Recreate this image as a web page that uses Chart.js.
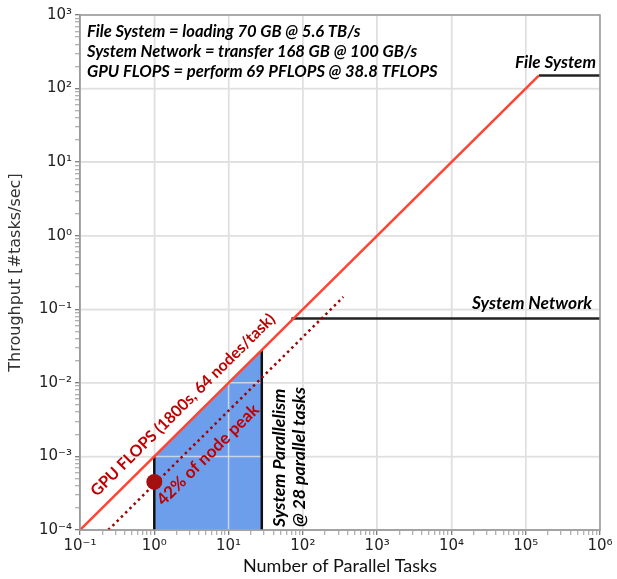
<!DOCTYPE html>
<html><head><meta charset="utf-8">
<script src="https://cdn.jsdelivr.net/npm/chart.js@4/dist/chart.umd.min.js"></script>
<style>html,body{margin:0;padding:0;background:#fff}#wrap{width:617px;height:579px;position:relative}</style>
</head><body><div id="wrap"><canvas id="c"></canvas></div>
<script>
// ---- data ----
const xTickValues = [0.1, 1, 10, 100, 1e3, 1e4, 1e5, 1e6];
const xTickLabels = ['10⁻¹','10⁰','10¹','10²','10³','10⁴','10⁵','10⁶'];
const yTickValues = [1e-4, 1e-3, 1e-2, 1e-1, 1, 10, 100, 1000];
const yTickLabels = ['10⁻⁴','10⁻³','10⁻²','10⁻¹','10⁰','10¹','10²','10³'];

const gpuTasks = [0.1, 1.5e5];
const gpuThroughput = [1e-4, 150];
const fileSystemTasks = [1.5e5, 1e6];
const fileSystemThroughput = [150, 150];
const networkTasks = [70, 1e6];
const networkThroughput = [0.075, 0.075];
const achievedTasks = [0.24, 350];
const achievedThroughput = [1.0e-4, 0.147];
const measuredTasks = [1];
const measuredThroughput = [4.5e-4];
const regionTasks = [1, 28];
const regionThroughput = [1e-3, 0.028];
const singleBarTasks = [1, 1];
const singleBarThroughput = [1e-4, 1e-3];
const systemBarTasks = [28, 28];
const systemBarThroughput = [1e-4, 0.028];

const infoLines = [
  'File System = loading 70 GB @ 5.6 TB/s',
  'System Network = transfer 168 GB @ 100 GB/s',
  'GPU FLOPS = perform 69 PFLOPS @ 38.8 TFLOPS'
];

// ---- helpers ----
const pts = (xs, ys) => xs.map((x, i) => ({x, y: ys[i]}));
const isMajor = v => Math.abs(Math.log10(v) - Math.round(Math.log10(v))) < 1e-9;
function buildTicks(lo, hi) {
  const t = [];
  for (let n = lo; n < hi; n++) for (let k = 1; k <= 9; k++) t.push({value: k * Math.pow(10, n)});
  t.push({value: Math.pow(10, hi)});
  return t;
}
function labelFor(v, vals, labels) {
  if (!isMajor(v)) return '';
  const i = vals.findIndex(u => Math.abs(Math.log10(u) - Math.log10(v)) < 1e-9);
  return i >= 0 ? labels[i] : '';
}
function fitSize(ctx, text, style, weight, family, width) {
  ctx.font = `${style} ${weight} 20px ${family}`;
  return 20 * width / ctx.measureText(text).width;
}

const gridColor = '#dddddd';
const BLUE_IDX = 0;

const gridOverFill = {
  id: 'gridOverFill',
  afterDatasetDraw(chart, args) {
    if (args.index !== BLUE_IDX) return;
    const {ctx, chartArea: a, scales: {x, y}} = chart;
    ctx.save();
    ctx.beginPath(); ctx.rect(a.left, a.top, a.right - a.left, a.bottom - a.top); ctx.clip();
    ctx.strokeStyle = 'rgba(225,225,225,0.8)';
    ctx.lineWidth = 1.5;
    xTickValues.forEach(v => { const p = x.getPixelForValue(v); ctx.beginPath(); ctx.moveTo(p, a.top); ctx.lineTo(p, a.bottom); ctx.stroke(); });
    yTickValues.forEach(v => { const p = y.getPixelForValue(v); ctx.beginPath(); ctx.moveTo(a.left, p); ctx.lineTo(a.right, p); ctx.stroke(); });
    ctx.restore();
  }
};

const annotations = {
  id: 'annotations',
  afterDatasetsDraw(chart) {
    const {ctx, chartArea: a, scales: {x, y}} = chart;
    ctx.save();
    // frame
    ctx.strokeStyle = '#999'; ctx.lineWidth = 1.5;
    ctx.strokeRect(a.left, a.top, a.right - a.left, a.bottom - a.top);

    const fam = 'Lato';
    // info block
    const s = fitSize(ctx, infoLines[2], 'italic', 'bold', fam, 351);
    ctx.font = `italic bold ${s}px ${fam}`;
    ctx.fillStyle = '#000'; ctx.textAlign = 'left'; ctx.textBaseline = 'middle';
    infoLines.forEach((t, i) => ctx.fillText(t, a.left + 7, a.top + 17 + i * 20));

    // cap labels
    ctx.textAlign = 'right';
    let fs = fitSize(ctx, 'File System', 'italic', 'bold', fam, 81);
    ctx.font = `italic bold ${fs}px ${fam}`;
    ctx.fillText('File System', a.right - 4, y.getPixelForValue(fileSystemThroughput[0]) - 13);
    fs = fitSize(ctx, 'System Network', 'italic', 'bold', fam, 120);
    ctx.font = `italic bold ${fs}px ${fam}`;
    ctx.fillText('System Network', a.right - 8, y.getPixelForValue(networkThroughput[0]) - 15);

    // diagonal labels
    const x0 = x.getPixelForValue(gpuTasks[0]), y0 = y.getPixelForValue(gpuThroughput[0]);
    const x1 = x.getPixelForValue(gpuTasks[1]), y1 = y.getPixelForValue(gpuThroughput[1]);
    const ang = Math.atan2(y1 - y0, x1 - x0);
    ctx.fillStyle = '#C00000'; ctx.textAlign = 'center'; ctx.textBaseline = 'middle';
    const g = 'GPU FLOPS (1800s, 64 nodes/task)';
    fs = fitSize(ctx, g, 'normal', 'bold', fam, 252);
    ctx.save();
    ctx.translate(x.getPixelForValue(2.43), y.getPixelForValue(5.0e-3));
    ctx.rotate(ang); ctx.font = `normal bold ${fs}px ${fam}`; ctx.fillText(g, 0, 0);
    ctx.restore();
    const p = '42% of node peak';
    fs = fitSize(ctx, p, 'normal', 'bold', fam, 136);
    ctx.save();
    ctx.translate(x.getPixelForValue(5.28), y.getPixelForValue(1.05e-3));
    ctx.rotate(ang); ctx.font = `normal bold ${fs}px ${fam}`; ctx.fillText(p, 0, 0);
    ctx.restore();

    // vertical label
    ctx.fillStyle = '#000'; ctx.textAlign = 'left';
    const v1 = 'System Parallelism', v2 = '@ 28 parallel tasks';
    fs = fitSize(ctx, v2, 'italic', 'bold', fam, 140);
    const xb = x.getPixelForValue(systemBarTasks[0]);
    ctx.font = `italic bold ${fs}px ${fam}`;
    ctx.save(); ctx.translate(xb + 18, a.bottom - 3); ctx.rotate(-Math.PI / 2); ctx.fillText(v1, 0, 0); ctx.restore();
    ctx.save(); ctx.translate(xb + 38, a.bottom - 3); ctx.rotate(-Math.PI / 2); ctx.fillText(v2, 0, 0); ctx.restore();
    ctx.restore();
  }
};

const lineDs = (data, color, width, extra) => Object.assign({
  data, borderColor: color, borderWidth: width, showLine: true, pointRadius: 0, fill: false, tension: 0
}, extra || {});

new Chart(document.getElementById('c'), {
  type: 'scatter',
  data: {
    datasets: [
      lineDs(pts(regionTasks, regionThroughput), 'rgba(0,0,0,0)', 0, {fill: 'start', backgroundColor: '#6D9EEB', order: 10}),
      lineDs(pts(singleBarTasks, singleBarThroughput), '#111', 2.5, {order: 3}),
      lineDs(pts(systemBarTasks, systemBarThroughput), '#111', 2.5, {order: 3}),
      lineDs(pts(fileSystemTasks, fileSystemThroughput), '#222', 2.5, {order: 3}),
      lineDs(pts(networkTasks, networkThroughput), '#222', 2.5, {order: 3}),
      lineDs(pts(achievedTasks, achievedThroughput), '#A00000', 2.5, {borderDash: [2.5, 3.5], order: 2}),
      lineDs(pts(gpuTasks, gpuThroughput), '#FF4433', 2.5, {order: 2}),
      {data: pts(measuredTasks, measuredThroughput), showLine: false, pointRadius: 8, pointBackgroundColor: '#A31010', pointBorderWidth: 0, order: 1}
    ]
  },
  options: {
    responsive: true, maintainAspectRatio: false, animation: false,
    layout: {padding: {left: 0, top: 15, right: 17, bottom: 0}},
    plugins: {legend: {display: false}, tooltip: {enabled: false}},
    scales: {
      x: {
        type: 'logarithmic', position: 'bottom', min: 0.1, max: 1e6,
        afterBuildTicks: s => { s.ticks = buildTicks(-1, 6); },
        afterFit: s => { s.height = 49; },
        ticks: {autoSkip: false, maxRotation: 0, minRotation: 0, padding: 2, color: '#222',
          font: {family: 'DejaVu Sans', size: 15},
          callback: v => labelFor(v, xTickValues, xTickLabels)},
        grid: {color: c => (c.tick && isMajor(c.tick.value)) ? gridColor : 'rgba(0,0,0,0)', lineWidth: 1.5,
          tickLength: 5, tickColor: c => (c.tick && isMajor(c.tick.value)) ? '#555' : '#999', tickWidth: 1},
        border: {color: '#999', width: 1.5},
        title: {display: true, text: 'Number of Parallel Tasks', color: '#111',
          font: {family: 'Lato', size: 18}, padding: {top: 0, bottom: 2}}
      },
      y: {
        type: 'logarithmic', position: 'left', min: 1e-4, max: 1e3,
        afterBuildTicks: s => { s.ticks = buildTicks(-4, 3); },
        afterFit: s => { s.width = 80; },
        ticks: {autoSkip: false, padding: 3, color: '#222',
          font: {family: 'DejaVu Sans', size: 15},
          callback: v => labelFor(v, yTickValues, yTickLabels)},
        grid: {color: c => (c.tick && isMajor(c.tick.value)) ? gridColor : 'rgba(0,0,0,0)', lineWidth: 1.5,
          tickLength: 5, tickColor: c => (c.tick && isMajor(c.tick.value)) ? '#555' : '#999', tickWidth: 1},
        border: {color: '#999', width: 1.5},
        title: {display: true, text: 'Throughput [#tasks/sec]', color: '#333',
          font: {family: 'DejaVu Sans', size: 16}, padding: {top: 6, bottom: 0}}
      }
    }
  },
  plugins: [gridOverFill, annotations]
});
</script></body></html>
